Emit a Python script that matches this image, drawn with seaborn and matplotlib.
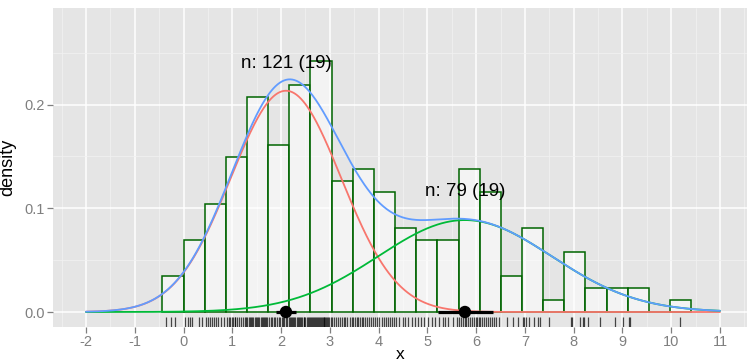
import numpy as np
import pandas as pd
import matplotlib
matplotlib.use("Agg")
import matplotlib.pyplot as plt
import seaborn as sns

# observations (shown as rug and histogram)
x_obs = [
    -0.37, -0.26, -0.18,
    0.02, 0.09, 0.13, 0.18, 0.31, 0.38,
    0.46, 0.51, 0.55, 0.58, 0.63, 0.66, 0.71, 0.77, 0.83,
    0.89, 0.93, 0.95, 0.99, 1.02, 1.05, 1.06, 1.10, 1.14, 1.17, 1.21, 1.25, 1.28,
    1.31, 1.34, 1.36, 1.39, 1.41, 1.43, 1.46, 1.48, 1.50, 1.53, 1.55, 1.58, 1.60,
    1.63, 1.65, 1.68, 1.70, 1.72,
    1.75, 1.79, 1.82, 1.85, 1.88, 1.92, 1.95, 1.98, 2.01, 2.04, 2.07, 2.10, 2.13, 2.16,
    2.18, 2.20, 2.22, 2.25, 2.27, 2.29, 2.32, 2.34, 2.36, 2.39, 2.41, 2.43, 2.46,
    2.48, 2.50, 2.53, 2.55, 2.57, 2.59,
    2.61, 2.63, 2.65, 2.67, 2.69, 2.71, 2.73, 2.75, 2.77, 2.79, 2.81, 2.83, 2.85,
    2.87, 2.89, 2.91, 2.93, 2.95, 2.97, 2.99, 3.02,
    3.05, 3.09, 3.12, 3.16, 3.20, 3.24, 3.28, 3.32, 3.36, 3.41, 3.45,
    3.48, 3.52, 3.55, 3.58, 3.62, 3.66, 3.69, 3.73, 3.77, 3.81, 3.85, 3.89,
    3.92, 3.97, 4.01, 4.06, 4.11, 4.15, 4.19, 4.24, 4.28, 4.32,
    4.36, 4.42, 4.49, 4.55, 4.61, 4.68, 4.74,
    4.80, 4.86, 4.93, 5.01, 5.09, 5.16,
    5.24, 5.31, 5.36, 5.43, 5.52, 5.60,
    5.65, 5.69, 5.73, 5.77, 5.80, 5.84, 5.87, 5.91, 5.96, 5.99, 6.02, 6.06,
    6.08, 6.13, 6.16, 6.20, 6.24, 6.29, 6.33, 6.37, 6.41, 6.47,
    6.64, 6.75, 6.86,
    6.96, 6.98, 7.02, 7.09, 7.19, 7.26, 7.31,
    7.50,
    7.94, 7.96, 8.13, 8.19, 8.21,
    8.30, 8.54,
    8.84, 9.02,
    9.14, 9.16,
    10.18,
]

# histogram bins
bin_width = 0.4337
n_bins = 25

# fitted mixture components
comp_mean = [2.10, 5.77]
comp_sd = [1.131, 1.777]
comp_n = [121, 79]
comp_lo = [1.89, 5.22]
comp_hi = [2.31, 6.34]
comp_labels = ["n: 121 (19)", "n: 79 (19)"]
label_y = [0.240, 0.116]
comp_colors = ["#F8766D", "#00BA38"]
total_color = "#619CFF"

x_ticks = list(range(-2, 12))
y_ticks = [0.0, 0.1, 0.2]

sns.set_theme(style="darkgrid", rc={
    "axes.facecolor": "#E5E5E5",
    "grid.color": "white",
    "axes.edgecolor": "#E5E5E5",
    "axes.unicode_minus": False,
})
plt.rcParams["font.family"] = ["Liberation Sans", "DejaVu Sans"]

fig = plt.figure(figsize=(7.47, 3.63), dpi=100)
ax = fig.add_axes([53 / 747, 36 / 363, 1 - 53 / 747, 319 / 363])

edges = bin_width * (np.arange(n_bins + 1) - 1)
df = pd.DataFrame({"x": x_obs})
sns.histplot(data=df, x="x", bins=edges, stat="density", ax=ax,
             color="white", alpha=0.55, edgecolor="#006400", linewidth=1.1,
             zorder=2)
# opaque outline over a translucent white fill
for p in ax.patches:
    p.set_alpha(None)
    p.set_edgecolor("#006400")
    p.set_facecolor((1, 1, 1, 0.55))

sns.rugplot(data=df, x="x", height=0.031, color="black", alpha=0.7,
            linewidth=0.9, ax=ax, zorder=3)

grid = np.linspace(-2, 11, 600)
total = np.zeros_like(grid)
n_total = sum(comp_n)
for mu, sd, n, col in zip(comp_mean, comp_sd, comp_n, comp_colors):
    dens = (n / n_total) * np.exp(-0.5 * ((grid - mu) / sd) ** 2) / (sd * np.sqrt(2 * np.pi))
    total += dens
    sns.lineplot(x=grid, y=dens, color=col, linewidth=1.3, ax=ax, zorder=4)
sns.lineplot(x=grid, y=total, color=total_color, linewidth=1.3, ax=ax, zorder=5)

for mu, lo, hi in zip(comp_mean, comp_lo, comp_hi):
    ax.plot([lo, hi], [0, 0], color="black", linewidth=2.3, zorder=6,
            solid_capstyle="butt")
sns.scatterplot(x=comp_mean, y=[0, 0], color="black", s=80, ax=ax, zorder=7,
                edgecolor="none")

for mu, ly, txt in zip(comp_mean, label_y, comp_labels):
    ax.text(mu, ly, txt, ha="center", va="center", fontsize=13.5,
            color="black", zorder=8)

ax.set_xlim(-2.677, 11.554)
ax.set_ylim(-0.01446, 0.2932)
ax.set_xticks(x_ticks)
ax.set_xticklabels([str(t) for t in x_ticks])
ax.set_yticks(y_ticks)
ax.set_yticklabels([f"{t:.1f}" for t in y_ticks])
ax.set_xticks(np.arange(-2.5, 11.6, 1.0), minor=True)
ax.set_yticks([0.05, 0.15, 0.25], minor=True)
ax.grid(which="major", color="white", linewidth=1.1)
ax.grid(which="minor", color="#F2F2F2", linewidth=0.5)
ax.set_axisbelow(True)
ax.tick_params(axis="both", which="major", length=4, width=0.9, color="#7F7F7F",
               labelcolor="#7F7F7F", labelsize=10.5, pad=2, bottom=True, left=True)
ax.tick_params(axis="both", which="minor", length=0)
for s in ax.spines.values():
    s.set_visible(False)
ax.set_xlabel("x", fontsize=12.5, color="black")
ax.xaxis.set_label_coords(0.5, -0.062)
ax.set_ylabel("density", fontsize=13, color="black", labelpad=6)

fig.savefig("out.png", dpi=100)
